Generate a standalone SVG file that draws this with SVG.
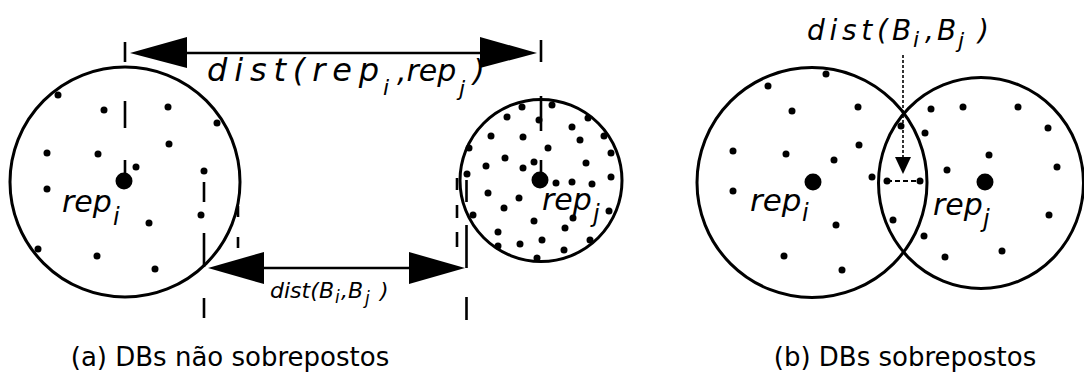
<svg xmlns="http://www.w3.org/2000/svg" width="1084" height="385" viewBox="0 0 1084 385">
<style>
.c{fill:none;stroke:#000;stroke-width:3}
.d{fill:#000}
.ln{stroke:#000;stroke-width:2.6;fill:none}
.ar{fill:#000}
.h{font-family:"DejaVu Sans",sans-serif;font-style:oblique;fill:#000}
.cap{font-family:"DejaVu Sans",sans-serif;font-size:26px;fill:#000}
</style>
<rect width="1084" height="385" fill="#fff"/>
<g id="bubble-i-a">
<circle class="c" cx="125" cy="182" r="115"/>
<circle class="d" cx="124" cy="181" r="8.5"/>
<g class="d">
<circle cx="58" cy="95" r="3.5"/><circle cx="104" cy="110" r="3.5"/><circle cx="168" cy="107" r="3.5"/><circle cx="217" cy="123" r="3.5"/>
<circle cx="47" cy="153" r="3.5"/><circle cx="98" cy="154" r="3.5"/><circle cx="169" cy="144" r="3.5"/><circle cx="136" cy="167" r="3.5"/>
<circle cx="204" cy="171" r="3.5"/><circle cx="47" cy="189" r="3.5"/><circle cx="201" cy="215" r="3.5"/><circle cx="149" cy="223" r="3.5"/>
<circle cx="38" cy="249" r="3.5"/><circle cx="97" cy="256" r="3.5"/><circle cx="155" cy="269" r="3.5"/>
</g>
<text class="h" font-size="30"><tspan x="62" y="212">rep</tspan><tspan x="113" y="225" font-size="24">i</tspan></text>
</g>
<g id="bubble-j-a">
<circle class="c" cx="541" cy="180.5" r="81"/>
<circle class="d" cx="540" cy="180" r="8.5"/>
<g class="d">
<circle cx="522" cy="107" r="3.5"/><circle cx="552" cy="105" r="3.5"/><circle cx="507" cy="117" r="3.5"/><circle cx="539" cy="120" r="3.5"/>
<circle cx="588" cy="118" r="3.5"/><circle cx="572" cy="127" r="3.5"/><circle cx="604" cy="136" r="3.5"/><circle cx="580" cy="140" r="3.5"/>
<circle cx="491" cy="136" r="3.5"/><circle cx="523" cy="137" r="3.5"/><circle cx="469" cy="148" r="3.5"/><circle cx="548" cy="148" r="3.5"/>
<circle cx="611" cy="153" r="3.5"/><circle cx="505" cy="158" r="3.5"/><circle cx="486" cy="166" r="3.5"/><circle cx="523" cy="168" r="3.5"/>
<circle cx="534" cy="162" r="3.5"/><circle cx="586" cy="163" r="3.5"/><circle cx="467" cy="174" r="3.5"/><circle cx="611" cy="177" r="3.5"/>
<circle cx="556" cy="183" r="3.5"/><circle cx="572" cy="182" r="3.5"/><circle cx="592" cy="184" r="3.5"/><circle cx="488" cy="193" r="3.5"/>
<circle cx="519" cy="198" r="3.5"/><circle cx="504" cy="208" r="3.5"/><circle cx="473" cy="215" r="3.5"/><circle cx="609" cy="211" r="3.5"/>
<circle cx="534" cy="221" r="3.5"/><circle cx="573" cy="218" r="3.5"/><circle cx="565" cy="228" r="3.5"/><circle cx="498" cy="232" r="3.5"/>
<circle cx="542" cy="240" r="3.5"/><circle cx="590" cy="240" r="3.5"/><circle cx="498" cy="246" r="3.5"/><circle cx="520" cy="244" r="3.5"/>
<circle cx="564" cy="250" r="3.5"/><circle cx="537" cy="258" r="3.5"/>
</g>
<text class="h" font-size="30"><tspan x="542" y="210">rep</tspan><tspan x="593" y="222" font-size="24">j</tspan></text>
</g>
<g id="bubble-i-b">
<circle class="c" cx="812" cy="182.5" r="115"/>
<circle class="d" cx="813" cy="182" r="8.5"/>
<g class="d">
<circle cx="826" cy="74" r="3.5"/><circle cx="768" cy="86" r="3.5"/><circle cx="792" cy="111" r="3.5"/><circle cx="858" cy="107" r="3.5"/>
<circle cx="733" cy="151" r="3.5"/><circle cx="786" cy="154" r="3.5"/><circle cx="859" cy="145" r="3.5"/><circle cx="834" cy="160" r="3.5"/>
<circle cx="872" cy="177" r="3.5"/><circle cx="733" cy="191" r="3.5"/><circle cx="836" cy="225" r="3.5"/><circle cx="893" cy="220" r="3.5"/>
<circle cx="784" cy="256" r="3.5"/><circle cx="842" cy="270" r="3.5"/><circle cx="901" cy="126" r="3.5"/>
</g>
<text class="h" font-size="31"><tspan x="750" y="211">rep</tspan><tspan x="802" y="221" font-size="24">i</tspan></text>
</g>
<g id="bubble-j-b">
<ellipse class="c" cx="981" cy="183" rx="102.5" ry="105.5"/>
<circle class="d" cx="985" cy="182" r="8.5"/>
<g class="d">
<circle cx="931" cy="109" r="3.5"/><circle cx="963" cy="107" r="3.5"/><circle cx="1018" cy="107" r="3.5"/><circle cx="1048" cy="128" r="3.5"/>
<circle cx="925" cy="133" r="3.5"/><circle cx="989" cy="155" r="3.5"/><circle cx="947" cy="170" r="3.5"/><circle cx="1057" cy="167" r="3.5"/>
<circle cx="1049" cy="215" r="3.5"/><circle cx="924" cy="236" r="3.5"/><circle cx="945" cy="257" r="3.5"/><circle cx="1002" cy="251" r="3.5"/>
</g>
<text class="h" font-size="30"><tspan x="933" y="215">rep</tspan><tspan x="983" y="227" font-size="24">j</tspan></text>
</g>
<g id="connectors">
<path class="ln" d="M125 42V62M125 101V128M125 160V176"/>
<path class="ln" d="M541 40V62M541 96V131M541 160V178"/>
<path class="ln" d="M186 53H481"/>
<polygon class="ar" points="130,53 187,37 187,68"/>
<polygon class="ar" points="537,53 480,37 480,68"/>
<path class="ln" d="M204 182V202M204 233V267M204 298V318"/>
<path class="ln" d="M238 206V217M238 237V248"/>
<path class="ln" d="M457 178V190M457 205V218M457 232V247"/>
<path class="ln" d="M466.5 180V202M466.5 225V268M466.5 297V320"/>
<path class="ln" d="M262 268H410"/>
<polygon class="ar" points="208,268 264,252 264,284"/>
<polygon class="ar" points="465,268 409,252 409,284"/>
<path d="M903 55V158" stroke="#000" stroke-width="1.6" stroke-dasharray="3 2" fill="none"/>
<polygon class="ar" points="895,157 911,157 903,174"/>
<path d="M887 181H920" stroke="#000" stroke-width="2" stroke-dasharray="5 3" fill="none"/>
<circle class="d" cx="887" cy="181" r="3.5"/><circle class="d" cx="920" cy="181" r="3.5"/>
</g>
<g id="labels">
<text class="h" font-size="32"><tspan x="207" y="81" textLength="172" lengthAdjust="spacing">dist(rep</tspan><tspan x="383" y="95" font-size="22">i</tspan><tspan x="397" y="81" font-size="30">,rep</tspan><tspan x="459" y="96" font-size="22">j</tspan><tspan x="473" y="81" font-size="30">)</tspan></text>
<text class="h" font-size="22"><tspan x="270" y="298">dist(</tspan><tspan x="319" y="298">B</tspan><tspan x="335" y="303" font-size="17">i</tspan><tspan x="341" y="298">,</tspan><tspan x="348" y="298">B</tspan><tspan x="365" y="304" font-size="17">j</tspan><tspan x="380" y="298">)</tspan></text>
<text class="h" font-size="28"><tspan x="807" y="40" textLength="81" lengthAdjust="spacing">dist(</tspan><tspan x="892" y="40">B</tspan><tspan x="913" y="47" font-size="22">i</tspan><tspan x="925" y="40">,</tspan><tspan x="937" y="40">B</tspan><tspan x="958" y="48" font-size="22">j</tspan><tspan x="978" y="40">)</tspan></text>
<text class="cap" x="230" y="366" text-anchor="middle">(a) DBs não sobrepostos</text>
<text class="cap" x="905" y="366" text-anchor="middle">(b) DBs sobrepostos</text>
</g>
</svg>
